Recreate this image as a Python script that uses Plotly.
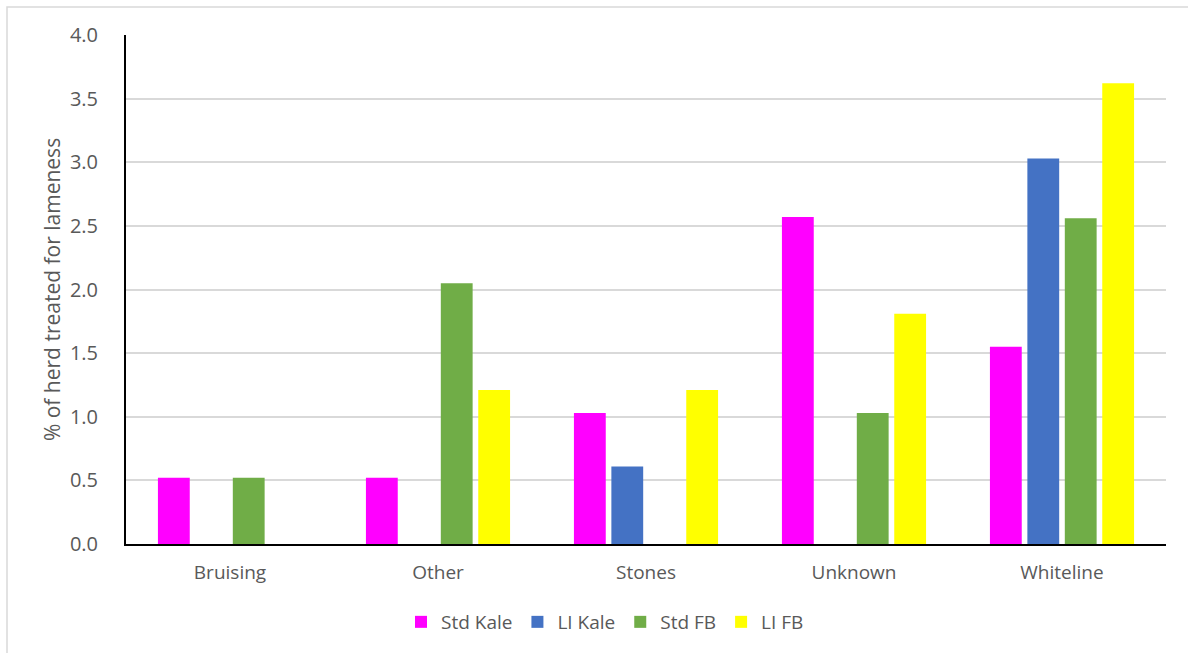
import plotly.graph_objects as go

# Lameness causes and share of the herd treated, by feeding group
categories = ["Bruising", "Other", "Stones", "Unknown", "Whiteline"]
std_kale = [0.52, 0.52, 1.03, 2.57, 1.55]
li_kale = [None, None, 0.61, None, 3.03]
std_fb = [0.52, 2.05, None, 1.03, 2.56]
li_fb = [None, 1.21, 1.21, 1.81, 3.62]

series = [
    ("Std Kale", std_kale, "#FF00FF"),
    ("LI Kale", li_kale, "#4472C4"),
    ("Std FB", std_fb, "#70AD47"),
    ("LI FB", li_fb, "#FFFF00"),
]

y_ticks = [0.0, 0.5, 1.0, 1.5, 2.0, 2.5, 3.0, 3.5, 4.0]

FONT = "Open Sans"
TEXT_GREY = "#595959"

fig = go.Figure()
for name, values, color in series:
    fig.add_trace(go.Bar(
        name=name,
        x=categories,
        y=values,
        marker=dict(color=color, line=dict(width=0)),
    ))

W, H = 1188, 653
L, R, T, B = 126, 22, 35, 109
pw, ph = W - L - R, H - T - B

fig.update_layout(
    width=W,
    height=H,
    margin=dict(l=L, r=R, t=T, b=B),
    paper_bgcolor="white",
    plot_bgcolor="white",
    barmode="group",
    bargap=0.28,
    bargroupgap=0.15,
    font=dict(family=FONT, color=TEXT_GREY, size=19),
    showlegend=True,
    legend=dict(
        orientation="h",
        x=(605 - L) / pw,
        xanchor="center",
        y=-(622 - (H - B)) / ph,
        yanchor="middle",
        font=dict(family=FONT, size=19, color=TEXT_GREY),
        itemsizing="constant",
        itemwidth=30,
        traceorder="normal",
    ),
    xaxis=dict(
        showline=True,
        linecolor="black",
        linewidth=2,
        ticks="",
        tickfont=dict(family=FONT, size=19, color=TEXT_GREY),
        ticklabelstandoff=10,
        showgrid=False,
    ),
    yaxis=dict(
        range=[0, 4.0],
        tickvals=y_ticks,
        ticktext=[f"{v:.1f}" for v in y_ticks],
        tickfont=dict(family=FONT, size=20, color=TEXT_GREY),
        showline=True,
        linecolor="black",
        linewidth=2,
        showgrid=True,
        gridcolor="#D9D9D9",
        gridwidth=1.5,
        zeroline=False,
        ticks="",
        ticklabelstandoff=22,
        title=dict(
            text="% of herd treated for lameness",
            font=dict(family=FONT, size=21, color=TEXT_GREY),
            standoff=4,
        ),
    ),
    shapes=[
        # outer chart-area frame
        dict(
            type="rect",
            xref="paper",
            yref="paper",
            x0=(7 - L) / pw,
            x1=1.2,
            y0=-0.4,
            y1=1 + (T - 7) / ph,
            line=dict(color="#D9D9D9", width=1.5),
            fillcolor="rgba(0,0,0,0)",
            layer="below",
        )
    ],
)

fig.write_html("out.html")
